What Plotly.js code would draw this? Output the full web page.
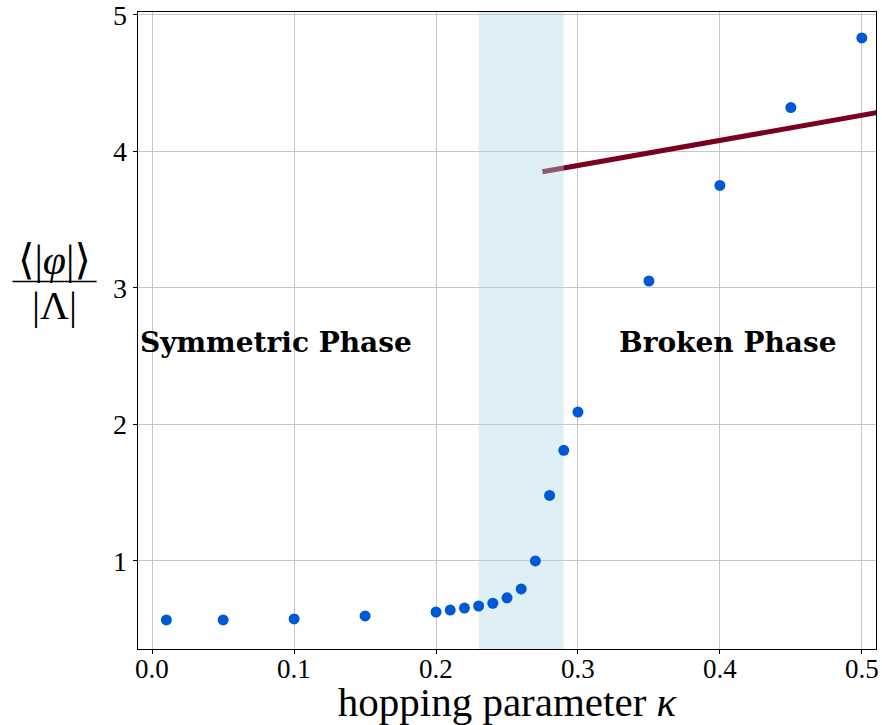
<!DOCTYPE html>
<html>
<head>
<meta charset="utf-8">
<script src="https://cdn.plot.ly/plotly-3.0.1.min.js"></script>
<style>html,body{margin:0;padding:0;background:#fff;}#chart{width:882px;height:725px;}</style>
</head>
<body>
<div id="chart"></div>
<script>
const kappa = [0.01, 0.05, 0.10, 0.15, 0.20, 0.21, 0.22, 0.23, 0.24, 0.25, 0.26, 0.27, 0.28, 0.29, 0.30, 0.35, 0.40, 0.45, 0.50];
const phiOverLambda = [0.568, 0.568, 0.575, 0.597, 0.626, 0.64, 0.655, 0.67, 0.69, 0.73, 0.795, 1.0, 1.48, 1.81, 2.09, 3.05, 3.75, 4.32, 4.83];
const fitKappa = [0.275, 0.52];
const fitValues = [3.85, 4.30];
const bandRange = [0.23, 0.29];
const xRange = [-0.01, 0.51];
const yRange = [0.355, 5.02];
const xTicks = [0.0, 0.1, 0.2, 0.3, 0.4, 0.5];
const xTickLabels = ["0.0", "0.1", "0.2", "0.3", "0.4", "0.5"];
const yTicks = [1, 2, 3, 4, 5];

const serif = "Liberation Serif, DejaVu Serif, serif";

const traces = [
  {
    x: fitKappa, y: fitValues, mode: "lines", type: "scatter",
    line: {color: "#7a0021", width: 5}, hoverinfo: "skip", showlegend: false
  },
  {
    x: [bandRange[0], bandRange[1], bandRange[1], bandRange[0], bandRange[0]],
    y: [yRange[0], yRange[0], yRange[1], yRange[1], yRange[0]],
    mode: "lines", type: "scatter", fill: "toself",
    fillcolor: "rgba(173,216,230,0.4)", line: {width: 0}, hoverinfo: "skip", showlegend: false
  },
  {
    x: kappa, y: phiOverLambda, mode: "markers", type: "scatter",
    marker: {color: "#0058d6", size: 11}, showlegend: false
  }
];

const xTickAnnotations = xTicks.map((v, i) => ({
  xref: "x", yref: "paper", x: v, y: 0,
  xanchor: "center", yanchor: "top", yshift: -3,
  text: xTickLabels[i], showarrow: false,
  font: {size: 27, family: serif}
}));

const layout = {
  width: 882, height: 725,
  margin: {l: 138, r: 6, t: 12, b: 76},
  paper_bgcolor: "#fff", plot_bgcolor: "#fff",
  showlegend: false,
  font: {family: serif, color: "#000"},
  xaxis: {
    range: xRange,
    tickvals: xTicks, ticktext: xTickLabels,
    showticklabels: false,
    showgrid: true, gridcolor: "#c6c6c6", gridwidth: 1,
    zeroline: false,
    showline: true, linecolor: "#000", linewidth: 1.3, mirror: true,
    ticks: "outside", ticklen: 4, tickcolor: "#000",
    tickfont: {size: 27, family: serif},
    title: {text: "hopping parameter <i>κ</i>", font: {size: 41, family: serif}, standoff: 50}
  },
  yaxis: {
    range: yRange,
    tickvals: yTicks,
    showgrid: true, gridcolor: "#c6c6c6", gridwidth: 1,
    zeroline: false,
    showline: true, linecolor: "#000", linewidth: 1.3, mirror: true,
    ticks: "outside", ticklen: 4, tickcolor: "#000",
    ticklabeloverflow: "allow",
    tickfont: {size: 28, family: serif}
  },
  shapes: [
    {
      type: "line", xref: "paper", yref: "paper",
      x0: -0.170, x1: -0.056, y0: 0.577, y1: 0.577,
      line: {color: "#000", width: 1.5}
    }
  ],
  annotations: xTickAnnotations.concat([
    {
      xref: "paper", yref: "paper", x: -0.113, y: 0.577,
      xanchor: "center", yanchor: "bottom", yshift: -4,
      text: "⟨|<i>φ</i>|⟩", showarrow: false,
      font: {size: 42, family: serif}
    },
    {
      xref: "paper", yref: "paper", x: -0.113, y: 0.577,
      xanchor: "center", yanchor: "top", yshift: 0,
      text: "|Λ|", showarrow: false,
      font: {size: 40, family: serif}
    },
    {
      xref: "x", yref: "y", x: 0.0873, y: 2.6,
      text: "<b>Symmetric Phase</b>", showarrow: false,
      font: {size: 28, family: "DejaVu Serif, serif"}
    },
    {
      xref: "x", yref: "y", x: 0.4056, y: 2.6,
      text: "<b>Broken Phase</b>", showarrow: false,
      font: {size: 28, family: "DejaVu Serif, serif"}
    }
  ])
};

Plotly.newPlot("chart", traces, layout, {displayModeBar: false, staticPlot: true});
</script>
</body>
</html>
